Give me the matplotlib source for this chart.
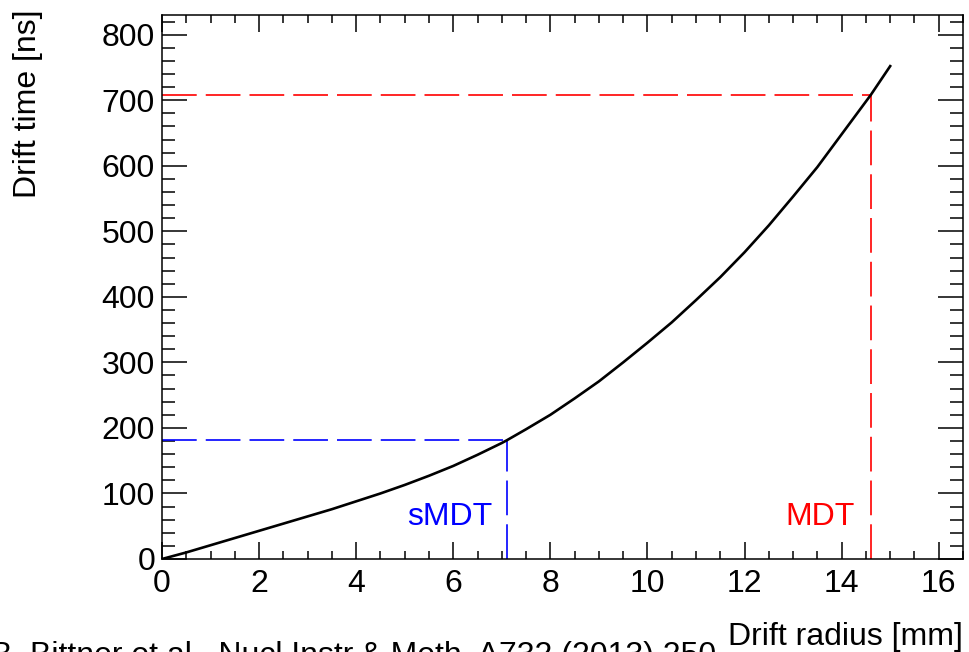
import numpy as np
import matplotlib.pyplot as plt
from matplotlib.ticker import MultipleLocator

plt.rcParams['font.family'] = ['Liberation Sans', 'DejaVu Sans']
plt.rcParams['lines.scale_dashes'] = False

# r-t relation
radius = [0, 0.5, 1, 1.5, 2, 2.5, 3, 3.5, 4, 4.5, 5, 5.5, 6, 6.5, 7, 7.1, 7.5,
          8, 8.5, 9, 9.5, 10, 10.5, 11, 11.5, 12, 12.5, 13, 13.5, 14, 14.6, 15]
drift_time = [0, 10, 21, 32, 43, 54, 65, 76, 88, 100, 113, 127, 142, 159, 177, 181, 198,
              220, 245, 271, 300, 330, 361, 395, 430, 468, 509, 553, 598, 648, 708, 752]

# tube limits
tube_names = ["sMDT", "MDT"]
tube_radius = [7.1, 14.6]
tube_tmax = [181, 708]
tube_colors = ["#0000ff", "#ff0000"]
label_x = [6.8, 14.28]
label_y = 52

fig = plt.figure(figsize=(9.69, 6.52), dpi=100)
ax = fig.add_axes([162 / 969, 93 / 652, 801 / 969, 544 / 652])

ax.plot(radius, drift_time, color="black", lw=1.9, zorder=3)

dash = (0, (25, 6.5))
for name, r, t, c, lx in zip(tube_names, tube_radius, tube_tmax, tube_colors, label_x):
    ax.plot([0, r], [t, t], color=c, lw=1.2, linestyle=dash, zorder=2)
    ax.plot([r, r], [0, t], color=c, lw=1.2, linestyle=dash, zorder=2)
    ax.text(lx, label_y, name, color=c, fontsize=23, ha="right", va="baseline")

ax.set_xlim(0, 16.5)
ax.set_ylim(0, 830)
ax.xaxis.set_major_locator(MultipleLocator(2))
ax.xaxis.set_minor_locator(MultipleLocator(0.5))
ax.yaxis.set_major_locator(MultipleLocator(100))
ax.yaxis.set_minor_locator(MultipleLocator(20))

ax.tick_params(axis="both", which="both", direction="in", top=True, right=True,
               width=1.1, labelsize=23)
ax.tick_params(axis="x", which="major", length=12.2, pad=7)
ax.tick_params(axis="x", which="minor", length=6.1)
ax.tick_params(axis="y", which="major", length=18, pad=5)
ax.tick_params(axis="y", which="minor", length=9.4)
for s in ax.spines.values():
    s.set_linewidth(1.1)

fig.text(28 / 969, 1 - 10 / 652, "Drift time [ns]", rotation=90,
         ha="center", va="top", fontsize=23)
fig.text(963 / 969, 7 / 652, "Drift radius [mm]", ha="right", va="baseline", fontsize=23)
fig.text(-9 / 969, -12 / 652, "B. Bittner et al., Nucl.Instr.& Meth. A732 (2013) 250",
         ha="left", va="baseline", fontsize=23)

fig.savefig("out.png", dpi=100)
